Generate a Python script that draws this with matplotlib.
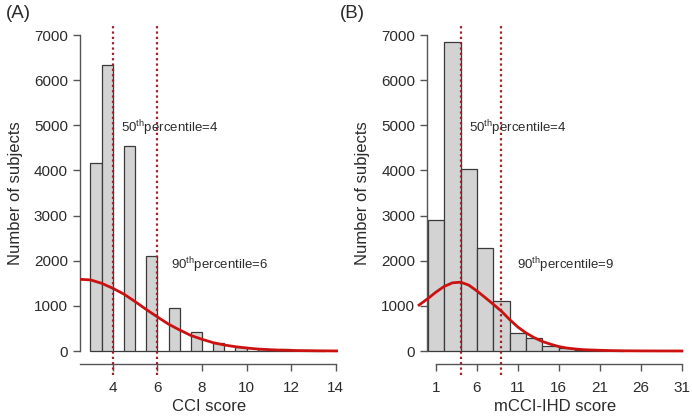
import numpy as np
import matplotlib
matplotlib.use("Agg")
import matplotlib.pyplot as plt

plt.rcParams['font.family'] = ['Liberation Sans', 'DejaVu Sans']
plt.rcParams['mathtext.fontset'] = 'custom'
plt.rcParams['mathtext.rm'] = 'Liberation Sans'

# ---------------- data ----------------
cci_edges = [3.0, 3.5, 4.0, 4.5, 5.0, 5.5, 6.0, 6.5, 7.0, 7.5, 8.0, 8.5, 9.0,
             9.5, 10.0, 10.5, 11.0, 11.5, 12.0, 12.5, 13.0, 13.5]
cci_counts = [4170, 6330, 0, 4550, 0, 2110, 0, 950, 0, 415, 0, 185, 0,
              85, 0, 55, 0, 35, 0, 15, 0]
cci_curve_x = [2.53, 3.0, 3.5, 4.0, 4.5, 5.0, 5.5, 6.0, 6.5, 7.0, 7.5, 8.0, 8.5,
               9.0, 9.5, 10.0, 10.5, 11.0, 11.5, 12.0, 12.5, 13.0, 13.5, 14.1]
cci_curve_y = [1588, 1575, 1500, 1390, 1260, 1095, 920, 755, 595, 465, 345, 260, 185,
               133, 95, 66, 44, 30, 20, 13, 8, 5, 3, 1]
cci_percentiles = [4, 6]
cci_xticks = [4, 6, 8, 10, 12, 14]

mcci_edges = [0, 2, 4, 6, 8, 10, 12, 14, 16, 18, 20, 22, 24]
mcci_counts = [2895, 6850, 4025, 2280, 1115, 388, 295, 111, 60, 32, 20, 8]
mcci_curve_x = [-1.2, 0, 1, 2, 3, 4, 5, 6, 7, 8, 9, 10, 11, 12, 13, 14, 15, 16,
                17, 18, 19, 20, 22, 24, 26, 28, 31.2]
mcci_curve_y = [1000, 1160, 1305, 1430, 1510, 1525, 1460, 1330, 1185, 1035, 880, 695,
                530, 400, 295, 210, 150, 98, 65, 44, 30, 22, 10, 4, 2, 1, 0]
mcci_percentiles = [4, 9]
mcci_xticks = [1, 6, 11, 16, 21, 26, 31]

yticks = [0, 1000, 2000, 3000, 4000, 5000, 6000, 7000]

TXT = '#2b2b2b'
AX = '#555555'
BAR = '#d3d3d3'
BAREDGE = '#3a3a3a'
RED = '#cc1111'
DRED = '#a51d24'

fig = plt.figure(figsize=(6.92, 4.20), dpi=100)
H = 420.0
W = 692.0
bottom = 1 - 364 / H
height = (364 - 22.4) / H
axA = fig.add_axes([80 / W, bottom, (338 - 80) / W, height])
axB = fig.add_axes([427.3 / W, bottom, (683.3 - 427.3) / W, height])


def draw(ax, edges, counts, cx, cy, pct, xticks, xlim, xbound, xlabel, labels):
    edges = np.asarray(edges, dtype=float)
    ax.bar(edges[:-1], counts, width=np.diff(edges), align='edge',
           color=BAR, edgecolor=BAREDGE, linewidth=0.9, zorder=2)
    ax.plot(cx, cy, color=RED, lw=2.0, zorder=3, clip_on=False,
            solid_capstyle='butt')
    for p in pct:
        ax.plot([p, p], [-532, 7222], color=DRED, lw=1.6, linestyle=(0, (1, 1.4)),
                zorder=4, clip_on=False)
    ax.set_xlim(*xlim)
    ax.set_ylim(-288, 7280)
    for s in ['top', 'right']:
        ax.spines[s].set_visible(False)
    for s in ['left', 'bottom']:
        ax.spines[s].set_color(AX)
        ax.spines[s].set_linewidth(1.0)
    ax.spines['left'].set_bounds(0, 7000)
    ax.spines['bottom'].set_bounds(*xbound)
    ax.set_yticks(yticks)
    ax.set_yticklabels([str(v) for v in yticks])
    ax.set_xticks(xticks)
    ax.set_xticklabels([str(v) for v in xticks])
    ax.tick_params(axis='both', direction='out', length=5.2, width=1.0,
                   color=AX, labelcolor=TXT, labelsize=11)
    ax.tick_params(axis='y', pad=3.5)
    ax.tick_params(axis='x', pad=7)
    ax.set_xlabel(xlabel, fontsize=12, color=TXT, labelpad=3)
    ax.set_ylabel('Number of subjects', fontsize=12, color=TXT, labelpad=8)
    ax.patch.set_alpha(0)
    for (x, y, t) in labels:
        ax.text(x, y, t, fontsize=9.5, color=TXT, ha='left', va='center', zorder=5)


draw(axA, cci_edges, cci_counts, cci_curve_x, cci_curve_y, cci_percentiles,
     cci_xticks, (2.53, 14.1), (2.53, 14), 'CCI score',
     [(4.36, 4940, r'50$^{\mathrm{th}}$percentile=4'),
      (6.6, 1905, r'90$^{\mathrm{th}}$percentile=6')])
draw(axB, mcci_edges, mcci_counts, mcci_curve_x, mcci_curve_y, mcci_percentiles,
     mcci_xticks, (-0.06, 31.2), (1, 31), 'mCCI-IHD score',
     [(5.07, 4940, r'50$^{\mathrm{th}}$percentile=4'),
      (10.85, 1905, r'90$^{\mathrm{th}}$percentile=9')])

fig.text(6 / W, 1 - 13.5 / H, '(A)', fontsize=13.5, color=TXT, ha='left', va='center')
fig.text(340 / W, 1 - 13.5 / H, '(B)', fontsize=13.5, color=TXT, ha='left', va='center')

fig.savefig('out.png', dpi=100)
